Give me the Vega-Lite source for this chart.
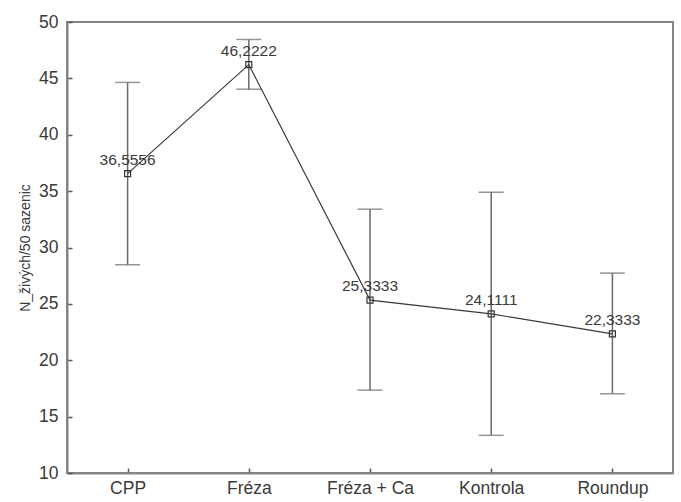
{
  "$schema": "https://vega.github.io/schema/vega-lite/v6.json",
  "width": 606,
  "height": 451,
  "autosize": {"type": "none"},
  "padding": {"left": 67, "top": 22, "right": 8, "bottom": 29},
  "background": "white",
  "config": {
    "font": "Liberation Sans",
    "view": {"stroke": "#858585", "strokeWidth": 2},
    "axis": {
      "domainColor": "#858585",
      "domainWidth": 2,
      "tickColor": "#555555",
      "tickSize": -5,
      "tickWidth": 1.5,
      "grid": false,
      "labelFont": "Liberation Sans",
      "labelFontSize": 17.5,
      "labelColor": "#3a3a3a",
      "titleFont": "Liberation Sans",
      "titleColor": "#3a3a3a"
    }
  },
  "data": {
    "values": [
      {"treatment": "CPP", "mean": 36.5556, "lo": 28.47, "hi": 44.64, "label": "36,5556"},
      {"treatment": "Fréza", "mean": 46.2222, "lo": 44.04, "hi": 48.45, "label": "46,2222"},
      {"treatment": "Fréza + Ca", "mean": 25.3333, "lo": 17.35, "hi": 33.4, "label": "25,3333"},
      {"treatment": "Kontrola", "mean": 24.1111, "lo": 13.34, "hi": 34.9, "label": "24,1111"},
      {"treatment": "Roundup", "mean": 22.3333, "lo": 17.03, "hi": 27.73, "label": "22,3333"}
    ]
  },
  "encoding": {
    "x": {
      "field": "treatment",
      "type": "nominal",
      "sort": null,
      "scale": {"type": "point", "padding": 0.5},
      "axis": {"title": null, "labelAngle": 0, "labelPadding": 11}
    }
  },
  "layer": [
    {
      "mark": {"type": "rule", "color": "#6a6a6a", "strokeWidth": 1.5},
      "encoding": {
        "y": {"field": "lo", "type": "quantitative", "scale": {"domain": [10, 50], "nice": false, "zero": false},
          "axis": {"title": "N_živých/50 sazenic", "values": [10, 15, 20, 25, 30, 35, 40, 45, 50], "labelPadding": 14, "titleFontSize": 14, "titleFontWeight": "normal", "titlePadding": 6}},
        "y2": {"field": "hi"}
      }
    },
    {
      "mark": {"type": "tick", "color": "#6a6a6a", "thickness": 1.5, "size": 25},
      "encoding": {"y": {"field": "lo", "type": "quantitative"}}
    },
    {
      "mark": {"type": "tick", "color": "#6a6a6a", "thickness": 1.5, "size": 25},
      "encoding": {"y": {"field": "hi", "type": "quantitative"}}
    },
    {
      "mark": {"type": "line", "color": "#3a3a3a", "strokeWidth": 1.2},
      "encoding": {"y": {"field": "mean", "type": "quantitative"}}
    },
    {
      "mark": {"type": "point", "shape": "square", "filled": false, "size": 36, "color": "#333333", "strokeWidth": 1.2, "opacity": 1},
      "encoding": {"y": {"field": "mean", "type": "quantitative"}}
    },
    {
      "mark": {"type": "text", "baseline": "alphabetic", "dy": -9, "fontSize": 15.5, "color": "#3a3a3a", "font": "Liberation Sans"},
      "encoding": {"y": {"field": "mean", "type": "quantitative"}, "text": {"field": "label"}}
    }
  ]
}
